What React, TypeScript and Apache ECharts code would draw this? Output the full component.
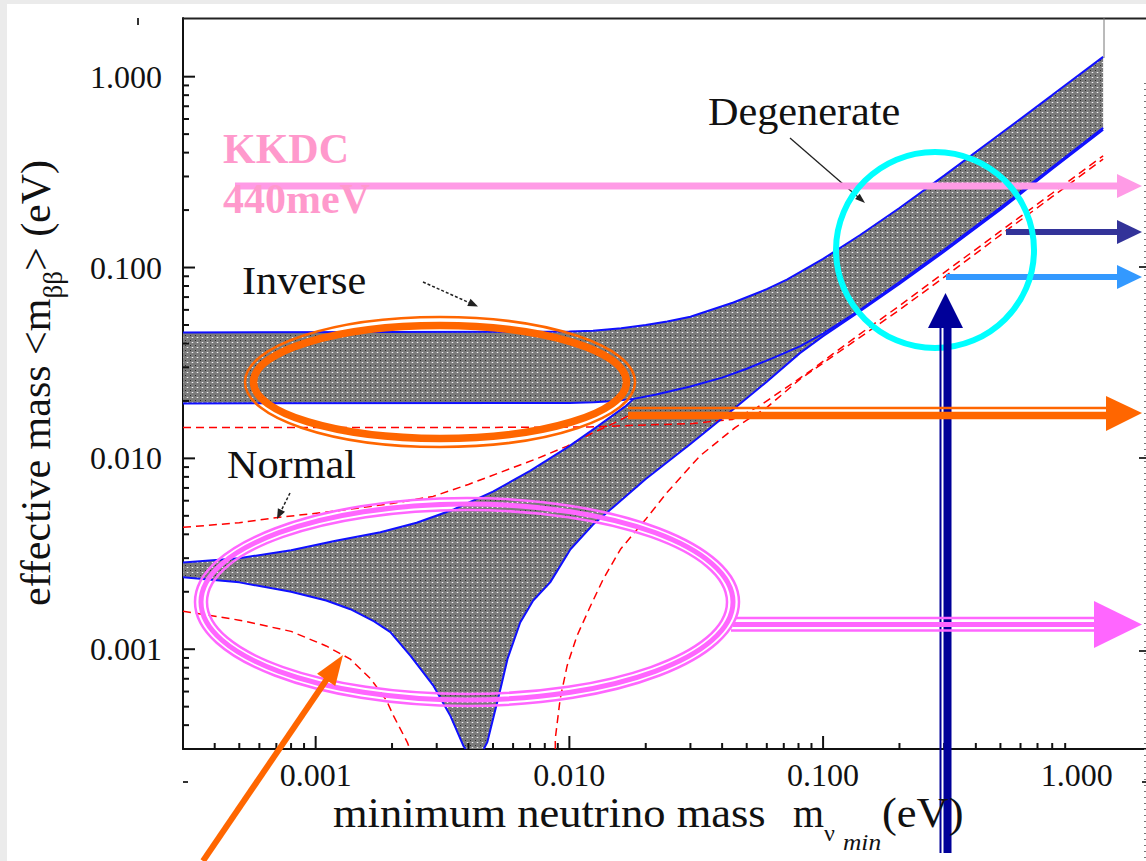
import React, { useEffect, useRef } from "react";
import * as echarts from "echarts";

const W = 1146;
const H = 861;
const SERIF = '"Liberation Serif", "Times New Roman", serif';

// axis ranges
const X_MIN = 0.0003;
const X_MAX = 1.28;
const Y_MIN = 0.0003;
const Y_MAX = 2.03;

// tick labels (powers of ten)
const TICK_EXPONENTS = [-3, -2, -1, 0];
const X_TICK_LABELS = ["0.001", "0.010", "0.100", "1.000"];
const Y_TICK_LABELS = ["0.001", "0.010", "0.100", "1.000"];

const X_MAJOR = [0.001, 0.01, 0.1];
const X_MINOR = [
  0.0004, 0.0005, 0.0006, 0.0007, 0.0008, 0.0009,
  0.002, 0.003, 0.004, 0.005, 0.006, 0.007, 0.008, 0.009,
  0.02, 0.03, 0.04, 0.05, 0.06, 0.07, 0.08, 0.09,
  0.2, 0.3, 0.4, 0.5, 0.6, 0.7, 0.8, 0.9,
];
const Y_MAJOR = [0.001, 0.01, 0.1, 1];
const Y_MINOR = [
  0.0004, 0.0005, 0.0006, 0.0007, 0.0008, 0.0009,
  0.002, 0.003, 0.004, 0.005, 0.006, 0.007, 0.008, 0.009,
  0.02, 0.03, 0.04, 0.05, 0.06, 0.07, 0.08, 0.09,
  0.2, 0.3, 0.4, 0.5, 0.6, 0.7, 0.8, 0.9,
];

// boundaries of the allowed regions  [m_min (eV), <m_bb> (eV)]
const IH_UPPER = [
  [0.0003, 0.0457], [0.01, 0.0462], [0.0124, 0.0467], [0.016, 0.048], [0.02, 0.05],
  [0.0243, 0.0521], [0.03, 0.0552], [0.0443, 0.0656], [0.06, 0.077], [0.072, 0.0865],
  [0.1, 0.111], [0.14, 0.148], [0.2, 0.205], [0.3, 0.303], [0.5, 0.502], [0.8, 0.801], [1.27, 1.27],
];
const IH_LOWER = [
  [0.0003, 0.0194], [0.01, 0.0195], [0.0125, 0.0197], [0.015, 0.02], [0.0179, 0.0205],
  [0.022, 0.0216], [0.03, 0.0238], [0.04, 0.0265], [0.05, 0.0295], [0.065, 0.034],
  [0.081, 0.0386], [0.1, 0.045], [0.14, 0.06], [0.2, 0.084], [0.3, 0.124], [0.5, 0.206],
  [0.8, 0.335], [1.27, 0.54],
];
const NH_UPPER = [
  [0.0003, 0.00285], [0.0005, 0.003], [0.0008, 0.0033], [0.0012, 0.0037], [0.0018, 0.0041],
  [0.0025, 0.0046], [0.0035, 0.0054], [0.005, 0.0067], [0.007, 0.0086], [0.01, 0.0116],
  [0.013, 0.0148], [0.0165, 0.0186], [0.0179, 0.0205],
];
const NH_LOWER_LEFT = [
  [0.0003, 0.00238], [0.0005, 0.00224], [0.0008, 0.002], [0.0011, 0.0018], [0.00137, 0.00162],
  [0.0017, 0.0014], [0.00197, 0.00123], [0.00237, 0.00092], [0.00292, 0.00064],
  [0.0034, 0.000446], [0.00383, 0.00031], [0.0039, 0.0003],
];
const NH_LOWER_RIGHT = [
  [0.0046, 0.0003], [0.00475, 0.000326], [0.00535, 0.000618], [0.0057, 0.000887],
  [0.0064, 0.00138], [0.0072, 0.0018], [0.0084, 0.00224], [0.0101, 0.00334], [0.0124, 0.0045],
  [0.015, 0.0056], [0.02, 0.0078], [0.03, 0.0119], [0.0443, 0.0181], [0.06, 0.0252],
  [0.081, 0.0356], [0.1, 0.0437], [0.14, 0.059], [0.2, 0.082], [0.3, 0.121], [0.5, 0.201],
  [0.8, 0.328], [1.27, 0.527],
];

// red dashed contours
const RED_A = [
  [0.0003, 0.01453], [0.005, 0.01453], [0.012, 0.0146], [0.018, 0.0149], [0.03, 0.0152],
  [0.044, 0.016], [0.055, 0.0185], [0.07, 0.023], [0.09, 0.029], [0.11, 0.0355], [0.15, 0.048],
  [0.2, 0.063], [0.3, 0.094], [0.5, 0.155], [0.8, 0.245], [1.27, 0.385],
];
const RED_B = [
  [0.0003, 0.00435], [0.0005, 0.0046], [0.00071, 0.0049], [0.0012, 0.0053], [0.002, 0.0058],
  [0.0029, 0.00632], [0.004, 0.0073], [0.00535, 0.00845], [0.0075, 0.01], [0.0098, 0.0116],
  [0.0125, 0.0137], [0.015, 0.0153], [0.0175, 0.017],
];
const RED_C = [
  [0.0003, 0.00158], [0.0005, 0.00142], [0.0008, 0.00124], [0.0011, 0.00104], [0.00137, 0.000887],
  [0.00165, 0.000698], [0.0019, 0.00054], [0.00203, 0.000446], [0.0023, 0.000324], [0.00235, 0.0003],
];
const RED_D = [
  [0.0088, 0.0003], [0.0088, 0.00034], [0.0092, 0.00055], [0.0098, 0.00082], [0.0107, 0.00117],
  [0.0121, 0.00168], [0.0136, 0.00233], [0.0159, 0.00334], [0.02, 0.0048], [0.0243, 0.00664],
  [0.0327, 0.0103], [0.045, 0.0145], [0.0601, 0.0185], [0.0811, 0.026], [0.11, 0.0345],
  [0.15, 0.046], [0.2, 0.06], [0.3, 0.089], [0.5, 0.148], [0.8, 0.235], [1.27, 0.37],
];

const labelFor = (labels: string[]) => (v: number) => {
  const l = Math.log10(v);
  const e = Math.round(l);
  if (Math.abs(l - e) > 1e-6) return "";
  const i = TICK_EXPONENTS.indexOf(e);
  return i >= 0 ? labels[i] : "";
};

function makePattern(): HTMLCanvasElement {
  const c = document.createElement("canvas");
  c.width = 5;
  c.height = 5;
  const g = c.getContext("2d")!;
  g.fillStyle = "#7b7b7b";
  g.fillRect(0, 0, 5, 5);
  g.fillStyle = "#f4f4f4";
  g.fillRect(2, 2, 1, 1);
  g.fillStyle = "#2e2e2e";
  g.fillRect(0, 0, 1, 1);
  g.fillStyle = "#9a9a9a";
  g.fillRect(1, 2, 1, 1);
  g.fillRect(3, 2, 1, 1);
  return c;
}

function measure(text: string, font: string): number {
  const c = document.createElement("canvas");
  const g = c.getContext("2d")!;
  g.font = font;
  return g.measureText(text).width;
}

const gLine = (x1: number, y1: number, x2: number, y2: number, stroke: string, lineWidth: number, extra: any = {}) => ({
  type: "line", shape: { x1, y1, x2, y2 }, style: { stroke, lineWidth, ...extra }, z: 100, silent: true,
});
const gPoly = (points: number[][], fill: string) => ({
  type: "polygon", shape: { points }, style: { fill }, z: 100, silent: true,
});
const gEll = (cx: number, cy: number, rx: number, ry: number, stroke: string, lineWidth: number) => ({
  type: "ellipse", shape: { cx, cy, rx, ry }, style: { fill: "transparent", stroke, lineWidth }, z: 100, silent: true,
});
const gText = (text: string, x: number, baseline: number, fs: number, o: any = {}) => ({
  type: "text", x, y: baseline - 0.34 * fs, scaleX: o.sx ?? 1, z: 101, silent: true,
  style: {
    text, fontSize: fs, fontFamily: SERIF, fontWeight: o.bold ? "bold" : "normal",
    fontStyle: o.italic ? "italic" : "normal", fill: o.color ?? "#111", align: "left", verticalAlign: "middle",
  },
});
const gHead = (tx: number, ty: number, fx: number, fy: number, len: number, hw: number, color: string) => {
  const dx = tx - fx, dy = ty - fy, d = Math.hypot(dx, dy);
  const ux = dx / d, uy = dy / d;
  const bx = tx - ux * len, by = ty - uy * len;
  return gPoly([[tx, ty], [bx - uy * hw, by + ux * hw], [bx + uy * hw, by - ux * hw]], color);
};

export default function App() {
  const ref = useRef<HTMLDivElement>(null);
  useEffect(() => {
    if (!ref.current) return;
    const chart = echarts.init(ref.current, undefined, { renderer: "svg", width: W, height: H });
    const pattern: any = { image: makePattern(), repeat: "repeat", imageWidth: 5, imageHeight: 5 };

    const ihPoly = [...IH_UPPER, ...IH_LOWER.slice().reverse()];
    const nhPoly = [
      ...NH_UPPER,
      ...IH_LOWER.filter((p) => p[0] > 0.0179),
      ...NH_LOWER_RIGHT.slice().reverse(),
      ...NH_LOWER_LEFT.slice().reverse(),
    ];

    const polySeries = (pts: number[][]) => ({
      type: "custom", coordinateSystem: "cartesian2d", data: [pts[0]], encode: { x: 0, y: 1 },
      silent: true, clip: true, z: 1,
      renderItem: (_p: any, api: any) => ({
        type: "polygon", shape: { points: pts.map((p) => api.coord(p)) },
        style: { fill: pattern, stroke: null },
      }),
    });
    const lineSeries = (data: number[][], color: string, width: number, dash?: any, z = 3) => ({
      type: "line", data, showSymbol: false, symbol: "none", silent: true, clip: true, z,
      lineStyle: { color, width, type: dash ?? "solid" },
    });

    const tickData = [
      ...X_MAJOR.map((v) => [v, Y_MIN, 0]),
      ...X_MINOR.map((v) => [v, Y_MIN, 1]),
      ...Y_MAJOR.map((v) => [X_MIN, v, 2]),
      ...Y_MINOR.map((v) => [X_MIN, v, 3]),
    ];
    const TICK_LEN = [13, 6, 12, 6];

    const axisLabelStyle = { fontFamily: SERIF, fontSize: 32, color: "#111" };

    // axis titles
    const F = 42;
    const fontMain = `${F}px "Liberation Serif"`;
    const fSub = 27;
    const yPart1 = "effective mass <m";
    const yPart2 = "ββ";
    const w1 = measure(yPart1, fontMain);
    const w2 = measure(yPart2, `${fSub}px "Liberation Serif"`);

    const PINK = "#ff9be6";
    const NAVY = "#333399";
    const LBLUE = "#3399ff";
    const DBLUE = "#000099";
    const ORANGE = "#ff6600";
    const MAGENTA = "#ff66ff";
    const CYAN = "#00ffff";

    const graphic: any[] = [
      // page frame strips
      { type: "rect", shape: { x: 0, y: 0, width: W, height: 4 }, style: { fill: "#ebebeb" }, z: 0, silent: true },
      { type: "rect", shape: { x: 0, y: 0, width: 7, height: H }, style: { fill: "#ebebeb" }, z: 0, silent: true },
      // frame lines
      gLine(183, 18.5, W, 18.5, "#222", 2),
      gLine(1104, 18, 1104, 58, "#777", 1),
      gLine(1104, 749, W, 749, "#111", 2),
      gLine(1145, 83, 1145, H, "#777", 2, { lineDash: [1, 5] }),
      gLine(1139, 267, 1146, 267, "#333", 2),
      gLine(1139, 458, 1146, 458, "#333", 2),
      gLine(1139, 651, 1146, 651, "#333", 2),
      gLine(138, 18, 138, 25, "#333", 2),
      gLine(183, 782, 188, 782, "#333", 2),
      gLine(1142, 782, 1146, 782, "#333", 2),

      // labels in the plot
      gText("Degenerate", 708, 125, 40, { sx: 1.056 }),
      gText("Inverse", 242, 294, 40, { sx: 1.056 }),
      gText("Normal", 227, 478, 40, { sx: 1.056 }),
      // small black pointer arrows
      gLine(423, 282, 470, 303, "#222", 1.5, { lineDash: [3, 2] }),
      gHead(478, 306.5, 423, 282, 10, 4, "#222"),
      gLine(290, 493, 281, 511, "#222", 1.5, { lineDash: [3, 2] }),
      gHead(277, 519, 290, 493, 10, 4, "#222"),
      gLine(790, 138, 858, 197, "#222", 1.3),
      gHead(865, 203, 790, 138, 10, 3.5, "#222"),

      // x axis title
      gText("minimum neutrino mass", 333, 827, F, { sx: 1.06 }),
      gText("m", 793, 827, F, { sx: 0.95 }),
      gText("ν", 824, 841, 24, { sx: 1.0 }),
      gText("min", 843, 850, 24, { italic: true, sx: 1.06 }),
      gText("(eV)", 882, 827, F, { sx: 1.06 }),
      // y axis title (rotated)
      {
        type: "group", x: 50, y: 606, rotation: Math.PI / 2, silent: true, z: 101,
        children: [
          { type: "text", x: 0, y: -0.34 * F, style: { text: yPart1, fontSize: F, fontFamily: SERIF, fill: "#111", align: "left", verticalAlign: "middle" } },
          { type: "text", x: w1, y: 12 - 0.34 * fSub, style: { text: yPart2, fontSize: fSub, fontFamily: SERIF, fill: "#111", align: "left", verticalAlign: "middle" } },
          { type: "text", x: w1 + w2, y: -0.34 * F, style: { text: "> (eV)", fontSize: F, fontFamily: SERIF, fill: "#111", align: "left", verticalAlign: "middle" } },
        ],
      },

      // KKDC annotation
      gText("KKDC", 223, 163, 42, { bold: true, color: "#ff99cc" }),
      gText("440meV", 223, 213, 42, { bold: true, color: "#ff99cc" }),
      gLine(235, 186, 1119, 186, PINK, 7),
      gPoly([[1117, 174], [1142, 186], [1117, 198]], PINK),
      // navy short arrow
      gLine(1006, 232, 1119, 232, NAVY, 6),
      gPoly([[1117, 220], [1142, 232], [1117, 244]], NAVY),
      // light blue arrow
      gLine(946, 277, 1119, 277, LBLUE, 6),
      gPoly([[1117, 265], [1142, 277], [1117, 289]], LBLUE),
      // cyan circle
      gEll(935, 250, 99, 98, CYAN, 6),
      // vertical dark blue arrow (thin-thick)
      gLine(940.5, 326, 940.5, 853, DBLUE, 2),
      gLine(947.5, 326, 947.5, 853, DBLUE, 8),
      gPoly([[928, 328], [945.5, 293], [963, 328]], DBLUE),
      // orange ellipse (thin outer + thick inner)
      gEll(440, 382, 195, 65, ORANGE, 2.5),
      gEll(440, 382, 186.5, 56.5, ORANGE, 7.5),
      // orange arrow (thin + thick)
      gLine(628, 408, 1108, 408, ORANGE, 2.5),
      gLine(628, 415.5, 1108, 415.5, ORANGE, 7.5),
      gPoly([[1106, 396], [1142, 413], [1106, 431]], ORANGE),
      // magenta triple ellipse
      gEll(467, 602, 272, 104, MAGENTA, 2.5),
      gEll(467, 602, 266, 98, MAGENTA, 5),
      gEll(467, 602, 260, 92, MAGENTA, 2.5),
      // magenta triple arrow
      gLine(735, 618, 1096, 618, MAGENTA, 2.5),
      gLine(733, 624.5, 1096, 624.5, MAGENTA, 5),
      gLine(731, 630.5, 1096, 630.5, MAGENTA, 2.5),
      gPoly([[1094, 601], [1142, 624.5], [1094, 648]], MAGENTA),
      // orange diagonal arrow
      gLine(203, 861, 329, 676, ORANGE, 6),
      gHead(343, 655, 203, 861, 30, 11, ORANGE),
    ];

    chart.setOption({
      animation: false,
      backgroundColor: "#ffffff",
      grid: { left: 183, top: 18, width: 921, height: 731, containLabel: false },
      xAxis: {
        type: "log", logBase: 10, min: X_MIN, max: X_MAX,
        axisLine: { show: true, onZero: false, lineStyle: { color: "#111", width: 2 } },
        axisTick: { show: false }, minorTick: { show: false }, splitLine: { show: false },
        axisLabel: { ...axisLabelStyle, margin: 10, formatter: labelFor(X_TICK_LABELS), hideOverlap: false },
      },
      yAxis: {
        type: "log", logBase: 10, min: Y_MIN, max: Y_MAX,
        axisLine: { show: true, onZero: false, lineStyle: { color: "#111", width: 2 } },
        axisTick: { show: false }, minorTick: { show: false }, splitLine: { show: false },
        axisLabel: { ...axisLabelStyle, margin: 21, formatter: labelFor(Y_TICK_LABELS), hideOverlap: false },
      },
      series: [
        polySeries(ihPoly),
        polySeries(nhPoly),
        lineSeries(RED_A, "#ff0000", 1.5, [8, 5], 2),
        lineSeries(RED_B, "#ff0000", 1.5, [8, 5], 2),
        lineSeries(RED_C, "#ff0000", 1.5, [8, 5], 2),
        lineSeries(RED_D, "#ff0000", 1.5, [8, 5], 2),
        lineSeries(IH_UPPER, "#1010ff", 2),
        lineSeries(IH_LOWER, "#1010ff", 2),
        lineSeries(NH_UPPER, "#1010ff", 2),
        lineSeries(NH_LOWER_LEFT, "#1010ff", 2),
        lineSeries(NH_LOWER_RIGHT, "#1010ff", 2),
        {
          type: "custom", coordinateSystem: "cartesian2d", data: tickData, encode: { x: 0, y: 1 },
          silent: true, clip: false, z: 5,
          renderItem: (_p: any, api: any) => {
            const pt = api.coord([api.value(0), api.value(1)]);
            const k = api.value(2);
            const len = TICK_LEN[k];
            const horiz = k >= 2;
            return {
              type: "line",
              shape: horiz
                ? { x1: pt[0], y1: pt[1], x2: pt[0] + len, y2: pt[1] }
                : { x1: pt[0], y1: pt[1], x2: pt[0], y2: pt[1] - len },
              style: { stroke: "#111", lineWidth: 2 },
            };
          },
        },
      ],
      graphic,
    });
    return () => chart.dispose();
  }, []);
  return <div ref={ref} style={{ position: "fixed", left: 0, top: 0, width: W, height: H }} />;
}
